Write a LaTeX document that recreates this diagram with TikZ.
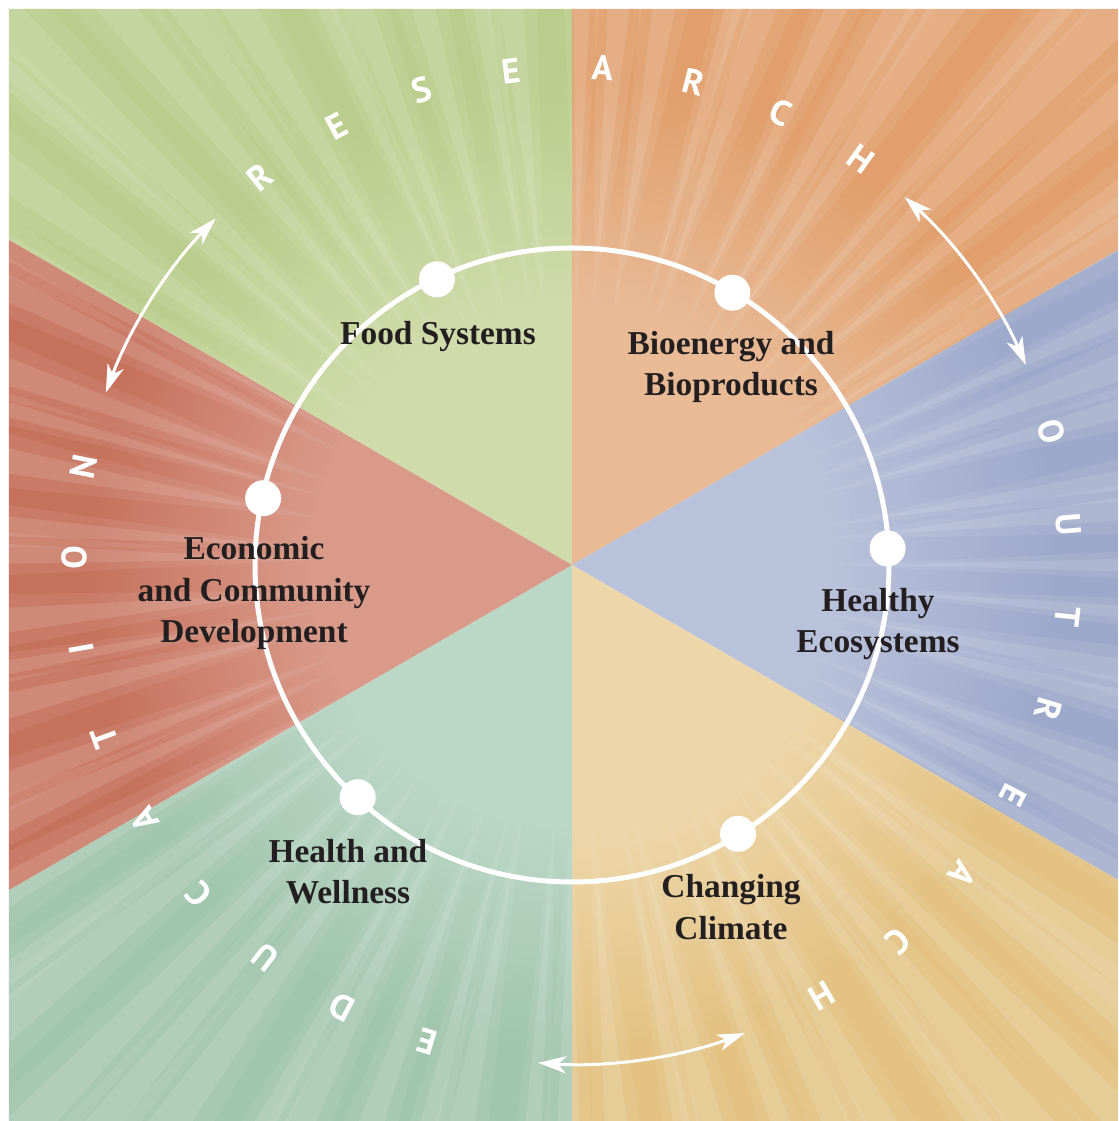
\documentclass[tikz,border=0pt]{standalone}
\usepackage{fontspec}
\setmainfont{Liberation Serif}
\newfontfamily\ringfont{PT Sans}
\usetikzlibrary{arrows.meta}

\definecolor{inkgray}{HTML}{231F20}
\definecolor{greenlite}{HTML}{CFDBAA}
\definecolor{greendark}{HTML}{BACD8C}
\definecolor{orangelite}{HTML}{E8BA96}
\definecolor{orangedark}{HTML}{E09F6C}
\definecolor{bluelite}{HTML}{B9C2DB}
\definecolor{bluedark}{HTML}{9DA9CA}
\definecolor{yellowlite}{HTML}{EDD7AA}
\definecolor{yellowdark}{HTML}{E3C283}
\definecolor{teallite}{HTML}{BBD7C6}
\definecolor{tealdark}{HTML}{A1C5AD}
\definecolor{redlite}{HTML}{D99A8A}
\definecolor{reddark}{HTML}{C6715C}

\pgfdeclareradialshading{greenray}{\pgfpointorigin}{color(0bp)=(greenlite); color(8bp)=(greenlite); color(15bp)=(greendark); color(50bp)=(greendark)}
\pgfdeclareradialshading{orangeray}{\pgfpointorigin}{color(0bp)=(orangelite); color(8bp)=(orangelite); color(15bp)=(orangedark); color(50bp)=(orangedark)}
\pgfdeclareradialshading{blueray}{\pgfpointorigin}{color(0bp)=(bluelite); color(8bp)=(bluelite); color(15bp)=(bluedark); color(50bp)=(bluedark)}
\pgfdeclareradialshading{yellowray}{\pgfpointorigin}{color(0bp)=(yellowlite); color(8bp)=(yellowlite); color(15bp)=(yellowdark); color(50bp)=(yellowdark)}
\pgfdeclareradialshading{tealray}{\pgfpointorigin}{color(0bp)=(teallite); color(8bp)=(teallite); color(15bp)=(tealdark); color(50bp)=(tealdark)}
\pgfdeclareradialshading{redray}{\pgfpointorigin}{color(0bp)=(redlite); color(8bp)=(redlite); color(15bp)=(reddark); color(50bp)=(reddark)}

\tikzset{
  ring/.style={white, line width=0.1cm},
  hub/.style={circle, fill=white, inner sep=0pt, minimum size=0.72cm},
  topic/.style={align=center, text=inkgray, inner sep=0pt,
    font=\bfseries\fontsize{19}{23.5}\selectfont},
  letter/.style={text=white, inner sep=0pt,
    font=\ringfont\bfseries\fontsize{20}{20}\selectfont},
  turnarrow/.style={white, line width=0.06cm,
    {Stealth[length=0.56cm,width=0.34cm,inset=0.16cm]}-{Stealth[length=0.56cm,width=0.34cm,inset=0.16cm]}}
}

\begin{document}
\begin{tikzpicture}[x=0.02cm,y=0.02cm]
                \useasboundingbox (-572,-556) rectangle (546,565);
                {

                % Drawing sector Food Systems
                \begin{scope}
                \clip (0,0) -- (0,556) -- (-563,556) -- (-563,325) -- cycle;
                \shade[shading=greenray] (0,0) circle (810);
                \end{scope}

                % Drawing sector Bioenergy
                \begin{scope}
                \clip (0,0) -- (546,315) -- (546,556) -- (0,556) -- cycle;
                \shade[shading=orangeray] (0,0) circle (810);
                \end{scope}

                % Drawing sector Healthy Ecosystems
                \begin{scope}
                \clip (0,0) -- (546,-315) -- (546,315) -- cycle;
                \shade[shading=blueray] (0,0) circle (810);
                \end{scope}

                % Drawing sector Changing Climate
                \begin{scope}
                \clip (0,0) -- (0,-556) -- (546,-556) -- (546,-315) -- cycle;
                \shade[shading=yellowray] (0,0) circle (810);
                \end{scope}

                % Drawing sector Health and Wellness
                \begin{scope}
                \clip (0,0) -- (-563,-325) -- (-563,-556) -- (0,-556) -- cycle;
                \shade[shading=tealray] (0,0) circle (810);
                \end{scope}

                % Drawing sector Economic
                \begin{scope}
                \clip (0,0) -- (-563,325) -- (-563,-325) -- cycle;
                \shade[shading=redray] (0,0) circle (810);
                \end{scope}

                % Drawing rays
                \begin{scope}
                \clip (-563,-556) rectangle (546,556);
                \foreach \k in {0,...,71} {
                  \pgfmathsetmacro\a{\k*5+1.2*sin(\k*137)}
                  \pgfmathsetmacro\w{0.9+0.8*abs(sin(\k*71))}
                  \fill[white, opacity=0.07] (\a:260) -- (\a-2*\w:820) -- (\a+2*\w:820) -- cycle;
                  \fill[white, opacity=0.11] (\a:300) -- (\a-\w:820) -- (\a+\w:820) -- cycle;
                }
                \end{scope}

                % Drawing ring
                \draw[ring] (0,0) circle (317);

                % Marking hubs
                \node[hub] (food dot) at (115.3:316) {};
                \node[hub] (bio dot) at (59.5:316) {};
                \node[hub] (eco dot) at (3:316) {};
                \node[hub] (clim dot) at (-58.3:316) {};
                \node[hub] (well dot) at (227.3:316) {};
                \node[hub] (comm dot) at (167.8:316) {};

                % Marking topics
                \node[topic] (food) at (-134,228) {Food Systems};
                \node[topic] (bio) at (159,198) {Bioenergy and\\Bioproducts};
                \node[topic] (eco) at (306,-59) {Healthy\\Ecosystems};
                \node[topic] (clim) at (159,-342) {Changing\\Climate};
                \node[topic] (well) at (-224,-307) {Health and\\Wellness};
                \node[topic] (comm) at (-318,-28) {Economic\\and Community\\Development};

                % Marking word RESEARCH
                \node[letter, rotate=38.8] (res1) at (128.8:498) {R};
                \node[letter, rotate=28.2] (res2) at (118.2:498) {E};
                \node[letter, rotate=17.6] (res3) at (107.6:498) {S};
                \node[letter, rotate=7.0] (res4) at (97.0:498) {E};
                \node[letter, rotate=-3.6] (res5) at (86.4:498) {A};
                \node[letter, rotate=-14.2] (res6) at (75.8:498) {R};
                \node[letter, rotate=-24.8] (res7) at (65.2:498) {C};
                \node[letter, rotate=-35.4] (res8) at (54.6:498) {H};

                % Marking word OUTREACH
                \node[letter, rotate=-74.5] (out1) at (15.5:498) {O};
                \node[letter, rotate=-85.3] (out2) at (4.7:498) {U};
                \node[letter, rotate=-96.0] (out3) at (-6.0:498) {T};
                \node[letter, rotate=-106.8] (out4) at (-16.8:498) {R};
                \node[letter, rotate=-117.6] (out5) at (-27.6:498) {E};
                \node[letter, rotate=-128.4] (out6) at (-38.4:498) {A};
                \node[letter, rotate=-139.1] (out7) at (-49.1:498) {C};
                \node[letter, rotate=-149.9] (out8) at (-59.9:498) {H};

                % Marking word EDUCATION
                \node[letter, rotate=163.1] (edu1) at (253.1:498) {E};
                \node[letter, rotate=152.5] (edu2) at (242.5:498) {D};
                \node[letter, rotate=142.0] (edu3) at (232.0:498) {U};
                \node[letter, rotate=131.4] (edu4) at (221.4:498) {C};
                \node[letter, rotate=120.8] (edu5) at (210.8:498) {A};
                \node[letter, rotate=110.3] (edu6) at (200.3:498) {T};
                \node[letter, rotate=99.7] (edu7) at (189.7:498) {I};
                \node[letter, rotate=89.1] (edu8) at (179.1:498) {O};
                \node[letter, rotate=78.6] (edu9) at (168.6:498) {N};

                % Drawing arrows
                \coordinate (edu res) at (135.8:497);
                \draw[turnarrow] (edu res) arc (135.8:159.7:497);
                \coordinate (res out) at (47.9:496);
                \draw[turnarrow] (res out) arc (47.9:23.8:496);
                \coordinate (out edu) at (-69.7:499);
                \draw[turnarrow] (out edu) arc (-69.7:-93.9:499);
                }
            \end{tikzpicture}
\end{document}
